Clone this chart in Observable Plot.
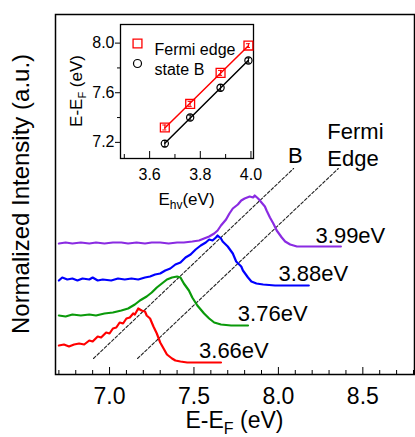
<!DOCTYPE html>
<html><head><meta charset="utf-8">
<script src="https://cdn.jsdelivr.net/npm/d3@7"></script>
<script src="https://cdn.jsdelivr.net/npm/@observablehq/plot@0.6"></script>
<style>
body{margin:0;background:#fff;font-family:"Liberation Sans",Arial,sans-serif;}
#wrap{position:relative;width:415px;height:437px;overflow:hidden;}
#wrap svg{position:absolute;left:0;top:0;}
</style></head><body><div id="wrap"></div>
<script>
// ---- Main panel: spectra (E-EF in eV, normalized intensity + offset, a.u.)
const E366 = [6.70,6.73,6.76,6.79,6.82,6.85,6.88,6.90,6.93,6.95,6.98,7.00,7.02,7.04,7.06,7.08,7.10,7.12,7.14,7.15,7.17,7.19,7.21,7.22,7.24,7.26,7.28,7.30,7.32,7.34,7.37,7.39,7.42,7.46,7.54,7.66];
const I366 = [1.45,1.50,1.40,1.50,1.55,1.50,1.70,1.65,1.90,1.85,2.10,2.05,2.30,2.35,2.60,2.55,2.80,2.85,3.05,3.00,3.30,3.20,3.15,2.95,2.80,2.40,2.05,1.60,1.30,1.00,0.80,0.70,0.65,0.60,0.60,0.60];
const E376 = [6.70,6.74,6.78,6.83,6.88,6.92,6.97,7.02,7.07,7.11,7.15,7.18,7.22,7.25,7.28,7.31,7.34,7.37,7.40,7.42,7.44,7.47,7.49,7.52,7.56,7.59,7.62,7.66,7.72,7.82];
const I376 = [2.95,2.90,3.00,2.95,3.00,2.95,3.05,3.10,3.20,3.30,3.50,3.70,3.90,4.10,4.35,4.55,4.75,4.85,4.90,4.85,4.55,4.20,3.85,3.45,3.05,2.80,2.60,2.50,2.45,2.45];
const E388 = [6.70,6.72,6.75,6.78,6.81,6.84,6.88,6.90,6.93,6.96,7.01,7.05,7.09,7.13,7.17,7.21,7.24,7.27,7.30,7.33,7.36,7.39,7.42,7.45,7.48,7.51,7.54,7.57,7.59,7.61,7.63,7.64,7.66,7.67,7.70,7.73,7.75,7.78,7.79,7.82,7.84,7.87,7.91,7.98,8.07,8.18];
const I388 = [4.70,4.85,4.75,4.80,4.70,4.80,4.75,4.85,4.70,4.75,4.70,4.80,4.75,4.80,4.75,4.85,4.90,5.00,5.05,5.20,5.30,5.50,5.60,5.85,6.00,6.25,6.45,6.60,6.75,6.70,6.85,6.95,6.80,6.65,6.40,6.05,5.65,5.40,5.20,4.85,4.65,4.55,4.50,4.45,4.45,4.45];
const E399 = [6.70,6.74,6.78,6.83,6.88,6.92,6.97,7.02,7.07,7.11,7.16,7.21,7.25,7.30,7.35,7.40,7.44,7.49,7.53,7.56,7.59,7.62,7.64,7.66,7.69,7.71,7.73,7.76,7.78,7.80,7.83,7.85,7.86,7.88,7.90,7.92,7.93,7.95,7.97,7.99,8.02,8.04,8.07,8.11,8.19,8.37];
const I399 = [6.55,6.60,6.55,6.60,6.55,6.60,6.55,6.60,6.60,6.55,6.60,6.55,6.60,6.60,6.55,6.60,6.60,6.65,6.70,6.80,6.90,7.05,7.20,7.45,7.75,8.05,8.30,8.50,8.70,8.80,8.90,8.85,8.95,8.80,8.60,8.40,8.20,7.85,7.55,7.20,6.85,6.65,6.50,6.40,6.40,6.40];

const curveLabels = ["3.99eV","3.88eV","3.76eV","3.66eV"];
const curveColors = ["#8a2be2","#0000ff","#0a9a0a","#ff0000"];
const labelE = [8.22, 8.00, 7.76, 7.53];
const labelI = [6.95, 5.05, 3.05, 1.20];

// dashed guide lines (state B and Fermi edge)
const guideBE = [6.905, 8.09];
const guideBI = [0.8, 10.3];
const guideFE = [7.166, 8.355];
const guideFI = [0.8, 10.3];
const guideBText = ["B"];
const guideBTextE = [8.10];
const guideBTextI = [10.95];
const guideFText = ["Fermi\nEdge"];
const guideFTextE = [8.29];
const guideFTextI = [11.55];

const xMajor = [7.0, 7.5, 8.0, 8.5];
const xMinor = [6.7,6.8,6.9,7.1,7.2,7.3,7.4,7.6,7.7,7.8,7.9,8.1,8.2,8.3,8.4,8.6,8.7,8.8];

// ---- Inset: peak positions vs photon energy
const photonE = [3.66, 3.76, 3.88, 3.99];
const fermiEdge = [7.32, 7.51, 7.76, 7.98];
const fermiErr = [0.02, 0.02, 0.02, 0.015];
const stateB = [7.19, 7.40, 7.64, 7.86];
const stateBErr = [0.025, 0.02, 0.025, 0.02];
const insetXMajor = [3.6, 3.8, 4.0];
const insetXMinor = [3.5, 3.7, 3.9];
const insetYMajor = [7.2, 7.6, 8.0];
const insetYMinor = [7.4, 7.8];

const FONT = "Liberation Sans, Arial, Helvetica, sans-serif";
const mk = (E, I) => E.map((e, i) => ({e, v: I[i]}));
const curves = [mk(E399, I399), mk(E388, I388), mk(E376, I376), mk(E366, I366)];
const fmt = d3.format(".1f");

const main = Plot.plot({
  width: 415, height: 437,
  marginLeft: 55, marginRight: 1, marginTop: 14, marginBottom: 63,
  style: {background: "transparent", fontFamily: FONT, color: "black"},
  x: {domain: [6.68, 8.806], label: null},
  y: {domain: [0, 18], axis: null, label: null},
  marks: [
    Plot.frame({stroke: "black", strokeWidth: 1.5}),
    Plot.tickX(xMinor, {x: d => d, insetTop: 356, stroke: "black", strokeWidth: 1}),
    Plot.tickX(xMajor, {x: d => d, insetTop: 353, stroke: "black", strokeWidth: 1}),
    Plot.axisX({ticks: xMajor, tickSize: 0, tickPadding: 13, fontSize: 23, tickFormat: fmt, label: null}),
    Plot.line(mk(guideBE, guideBI), {x: "e", y: "v", stroke: "#222", strokeWidth: 1.1, strokeDasharray: "3,2"}),
    Plot.line(mk(guideFE, guideFI), {x: "e", y: "v", stroke: "#222", strokeWidth: 1.1, strokeDasharray: "3,2"}),
    ...curves.map((c, i) => Plot.line(c, {x: "e", y: "v", stroke: curveColors[i], strokeWidth: 2.2})),
    Plot.text(curveLabels, {x: labelE, y: labelI, text: d => d, textAnchor: "start", fontSize: 22, fill: "black"}),
    Plot.text(guideBText, {x: guideBTextE, y: guideBTextI, text: d => d, textAnchor: "middle", fontSize: 22, fill: "black"}),
    Plot.text(guideFText, {x: guideFTextE, y: guideFTextI, text: d => d, textAnchor: "start", fontSize: 22, lineHeight: 1.23, fill: "black"})
  ]
});

const mkI = (P, V, Er) => P.map((p, i) => ({p, v: V[i], err: Er[i]}));
const fe = mkI(photonE, fermiEdge, fermiErr);
const sb = mkI(photonE, stateB, stateBErr);

const errMarks = (data, color) => [
  Plot.ruleX(data, {x: "p", y1: d => d.v - d.err, y2: d => d.v + d.err, stroke: color, strokeWidth: 1}),
  Plot.ruleY(data, {y: d => d.v + d.err, x1: d => d.p - 0.008, x2: d => d.p + 0.008, stroke: color, strokeWidth: 1}),
  Plot.ruleY(data, {y: d => d.v - d.err, x1: d => d.p - 0.008, x2: d => d.p + 0.008, stroke: color, strokeWidth: 1})
];

const inset = Plot.plot({
  width: 225, height: 215,
  marginLeft: 60, marginRight: 32, marginTop: 24, marginBottom: 57,
  style: {background: "transparent", fontFamily: FONT, color: "black"},
  x: {domain: [3.485, 4.01], label: null},
  y: {domain: [7.07, 8.15], label: null},
  marks: [
    Plot.frame({stroke: "black", strokeWidth: 1.3}),
    Plot.tickX(insetXMinor, {x: d => d, insetTop: 130, stroke: "black"}),
    Plot.tickX(insetXMajor, {x: d => d, insetTop: 127, stroke: "black"}),
    Plot.axisX({ticks: insetXMajor, tickSize: 0, tickPadding: 10, fontSize: 16, tickFormat: fmt, label: null}),
    Plot.axisY({ticks: insetYMajor, tickSize: 5, tickPadding: 1, fontSize: 16, tickFormat: fmt, label: null}),
    Plot.axisY({ticks: insetYMinor, tickSize: 3, tickFormat: () => "", label: null}),
    Plot.linearRegressionY(fe, {x: "p", y: "v", stroke: "red", ci: 0, strokeWidth: 1.5}),
    Plot.linearRegressionY(sb, {x: "p", y: "v", stroke: "black", ci: 0, strokeWidth: 1.5}),
    ...errMarks(fe, "red"),
    ...errMarks(sb, "black"),
    Plot.dot(fe, {x: "p", y: "v", symbol: "square", r: 5, stroke: "red", strokeWidth: 1.3, fill: "none"}),
    Plot.dot(sb, {x: "p", y: "v", symbol: "circle", r: 3.6, stroke: "black", strokeWidth: 1.2, fill: "none"}),
    // legend
    Plot.dot([0], {frameAnchor: "top-left", dx: 17, dy: 19, symbol: "square", r: 5, stroke: "red", strokeWidth: 1.3, fill: "none"}),
    Plot.dot([0], {frameAnchor: "top-left", dx: 17, dy: 39, symbol: "circle", r: 4, stroke: "black", strokeWidth: 1.2, fill: "none"}),
    Plot.text(["Fermi edge"], {frameAnchor: "top-left", dx: 34, dy: 19, text: d => d, textAnchor: "start", fontSize: 16, fill: "black"}),
    Plot.text(["state B"], {frameAnchor: "top-left", dx: 34, dy: 39, text: d => d, textAnchor: "start", fontSize: 16, fill: "black"})
  ]
});

const wrap = document.getElementById("wrap");
wrap.appendChild(main);
wrap.appendChild(inset);
inset.style.left = "60px";
inset.style.top = "0px";

// axis titles with subscripts
const sm = d3.select(main);
const xl = sm.append("text").attr("x", 234.5).attr("y", 428).attr("text-anchor", "middle")
  .attr("font-size", 23).attr("font-family", FONT).attr("fill", "black");
xl.append("tspan").text("E-E");
xl.append("tspan").attr("font-size", 16).attr("dy", 6).text("F");
xl.append("tspan").attr("dy", -6).text(" (eV)");
sm.append("text").attr("transform", "translate(29,194) rotate(-90)").attr("text-anchor", "middle")
  .attr("font-size", 24).attr("font-family", FONT).attr("fill", "black").text("Normalized Intensity (a.u.)");

const si = d3.select(inset);
const yl = si.append("text").attr("transform", "translate(22,91) rotate(-90)").attr("text-anchor", "middle")
  .attr("font-size", 17).attr("font-family", FONT).attr("fill", "black");
yl.append("tspan").text("E-E");
yl.append("tspan").attr("font-size", 11).attr("dy", 4).text("F");
yl.append("tspan").attr("dy", -4).text(" (eV)");
const il = si.append("text").attr("x", 126.5).attr("y", 205).attr("text-anchor", "middle")
  .attr("font-size", 17).attr("font-family", FONT).attr("fill", "black");
il.append("tspan").text("E");
il.append("tspan").attr("font-size", 12).attr("dy", 4).text("hv");
il.append("tspan").attr("dy", -4).text("(eV)");
</script>
</body></html>
